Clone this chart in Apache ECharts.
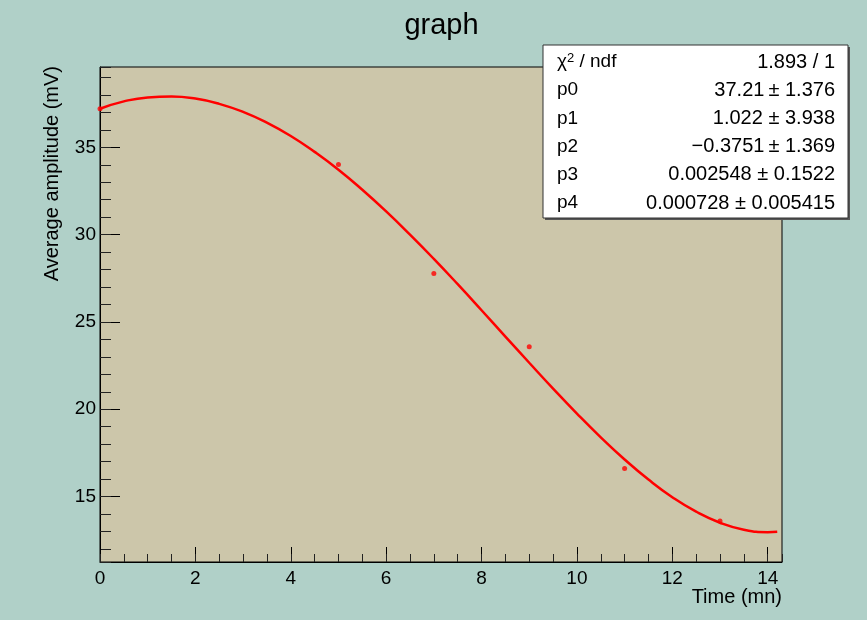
<!DOCTYPE html>
<html>
<head>
<meta charset="utf-8">
<script src="https://cdn.jsdelivr.net/npm/echarts@6/dist/echarts.min.js"></script>
<style>
html,body{margin:0;padding:0;background:#b0d0c8;}
#chart{width:867px;height:620px;}
</style>
</head>
<body>
<div id="chart"></div>
<script>
// ---- data ----
const titleText = 'graph';
const xTitle = 'Time (mn)';
const yTitle = 'Average amplitude (mV)';
const pointX = [0, 5, 7, 9, 11, 13];
const pointY = [37.21, 34.02, 27.77, 23.58, 16.6, 13.6];
// fit curve
const fitX = [0, 0.5, 1, 1.5, 2, 2.5, 3, 3.5, 4, 4.5, 5, 5.5, 6, 6.5, 7, 7.5, 8, 8.5, 9, 9.5, 10, 10.5, 11, 11.5, 12, 12.5, 13, 13.5, 14, 14.2];
const fitY = [37.21, 37.63, 37.86, 37.91, 37.79, 37.49, 37.03, 36.41, 35.65, 34.74, 33.72, 32.57, 31.33, 30.00, 28.61, 27.16, 25.67, 24.16, 22.66, 21.18, 19.75, 18.39, 17.12, 15.97, 14.96, 14.13, 13.50, 13.10, 12.96, 12.98];
const xRange = [0, 14.3];
const yRange = [11.25, 39.6];
const statNames = ['{g|χ}{s|2}{g| / ndf}', 'p0', 'p1', 'p2', 'p3', 'p4'];
const statValues = ['1.893 / 1', '37.21\u2009± 1.376', '1.022 ± 3.938', '\u22120.3751\u2009± 1.369', '0.002548 ± 0.1522', '0.000728 ± 0.005415'];

const FONT = '"Liberation Sans", Arial, Helvetica, sans-serif';
const chart = echarts.init(document.getElementById('chart'), null, {renderer: 'canvas'});

const points = pointX.map((x, i) => [x, pointY[i]]);
const fit = fitX.map((x, i) => [x, fitY[i]]);

const gridL = 100, gridT = 67, gridR = 85, gridB = 58;

const statGraphics = [];
const boxX = 543, boxY = 45, boxW = 305, boxH = 173;
statGraphics.push({type: 'rect', shape: {x: boxX + 2, y: boxY + 2, width: boxW, height: boxH}, style: {fill: '#555'}, z: 100});
statGraphics.push({type: 'rect', shape: {x: boxX, y: boxY, width: boxW, height: boxH}, style: {fill: '#fff', stroke: '#333', lineWidth: 1}, z: 101});
statNames.forEach((n, i) => {
  const yc = 62 + i * 28.2;
  statGraphics.push({type: 'text', x: 557, y: yc, z: 102, style: {text: n, font: '19px ' + FONT, fill: '#000', verticalAlign: 'middle', align: 'left',
    rich: {g: {font: '19px ' + FONT, fill: '#000'}, s: {font: '13px ' + FONT, fill: '#000', verticalAlign: 'top', padding: [0, 0, 8, 0]}}}});
  statGraphics.push({type: 'text', x: 835, y: yc, z: 102, style: {text: statValues[i], font: '20px ' + FONT, fill: '#000', verticalAlign: 'middle', align: 'right'}});
});

const option = {
  backgroundColor: '#b0d0c8',
  animation: false,
  grid: {left: gridL, top: gridT, right: gridR, bottom: gridB, show: true, backgroundColor: '#ccc6aa', borderColor: '#000', borderWidth: 1, containLabel: false},
  xAxis: [
    {type: 'value', position: 'bottom', min: xRange[0], max: xRange[1], interval: 2,
      axisLine: {show: true, onZero: false, lineStyle: {color: '#000', width: 1}},
      axisTick: {show: true, inside: true, length: 15, lineStyle: {color: '#000'}},
      axisLabel: {show: true, margin: 7, showMaxLabel: false, color: '#000', fontFamily: FONT, fontSize: 19},
      splitLine: {show: false}},
    {type: 'value', position: 'bottom', min: xRange[0], max: xRange[1], interval: 0.5,
      axisLine: {show: false, onZero: false},
      axisTick: {show: true, inside: true, length: 8, lineStyle: {color: '#222'}},
      axisLabel: {show: false},
      splitLine: {show: false}}
  ],
  yAxis: [
    {type: 'value', position: 'left', min: yRange[0], max: yRange[1], minInterval: 5, maxInterval: 5,
      axisLine: {show: true, onZero: false, lineStyle: {color: '#000', width: 1}},
      axisTick: {show: true, inside: true, length: 20, lineStyle: {color: '#000'}},
      axisLabel: {show: true, margin: 4, showMinLabel: false, showMaxLabel: false, color: '#000', fontFamily: FONT, fontSize: 19},
      splitLine: {show: false}},
    {type: 'value', position: 'left', min: yRange[0], max: yRange[1], minInterval: 1, maxInterval: 1,
      axisLine: {show: false, onZero: false},
      axisTick: {show: true, inside: true, length: 11, lineStyle: {color: '#222'}},
      axisLabel: {show: false},
      splitLine: {show: false}}
  ],
  series: [
    {type: 'line', data: fit, smooth: true, showSymbol: false, symbol: 'none', lineStyle: {color: '#ff0000', width: 2.5}, xAxisIndex: 0, yAxisIndex: 0, z: 3, silent: true},
    {type: 'scatter', data: points, symbol: 'circle', symbolSize: 5, itemStyle: {color: '#ff0000'}, xAxisIndex: 0, yAxisIndex: 0, z: 4}
  ],
  graphic: [
    {type: 'text', x: 441.5, y: 26, style: {text: titleText, font: '29px ' + FONT, fill: '#000', align: 'center', verticalAlign: 'middle'}},
    {type: 'text', x: 782, y: 597, style: {text: xTitle, font: '20px ' + FONT, fill: '#000', align: 'right', verticalAlign: 'middle'}},
    {type: 'text', x: 52, y: 66, rotation: Math.PI / 2, style: {text: yTitle, font: '20px ' + FONT, fill: '#000', align: 'right', verticalAlign: 'middle'}}
  ].concat(statGraphics)
};
chart.setOption(option);
</script>
</body>
</html>
